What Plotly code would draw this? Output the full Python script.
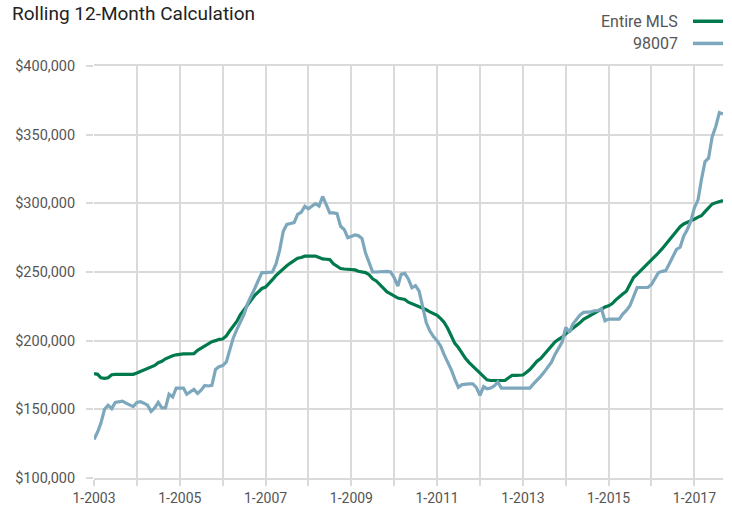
import pandas as pd
import plotly.graph_objects as go

# Monthly values (thousands of $), Jan 2003 .. Sep 2017
entire_mls_k = [
    176, 175.5, 173, 172.5, 173, 175.2, 175.5, 175.5, 175.5, 175.5, 175.5, 175.5,
    176.5, 177.5, 178.5, 180, 180.7, 182, 184, 185, 186.8, 188, 189, 189.7,
    190.2, 190.4, 190.4, 190.4, 190.6, 193, 194.5, 196, 197.5, 199.3, 200, 201,
    201.2, 203.5, 207, 210.5, 214, 219, 222.5, 226, 229.5, 233, 235.5, 238,
    239, 241.5, 244.5, 247.5, 250, 252, 254.5, 256.5, 258.5, 260, 260.5, 261.5,
    261.6, 261.6, 261.6, 260.5, 259.5, 259.3, 259, 256, 253.9, 252.5, 252.2, 252,
    252, 251.5, 250.5, 250, 249.6, 248, 245, 243.5, 241, 238, 235.5, 234,
    232.5, 231, 230.5, 230, 228, 227, 226, 224.5, 224, 222.5, 221, 219.5,
    218.5, 216, 213.5, 209, 204, 198, 195, 190.5, 187, 184, 181.5, 178.5,
    176.5, 174, 171.5, 171, 171, 171, 171, 171, 173, 174.7, 174.7, 174.7,
    175, 177, 179, 182, 185, 187, 190, 193, 196, 199, 201, 202.5,
    205, 207, 209, 211, 213, 215.5, 217, 218.5, 220, 221.5, 223, 224.5,
    225.4, 227, 229.5, 232, 234, 236, 241, 246, 248.5, 251, 254, 256,
    259, 261.5, 264, 267, 270, 273, 276.5, 280, 283, 285, 286, 287,
    288.5, 290, 291, 294, 297, 299.5, 300.5, 301, 302,
]

zip_98007_k = [
    128, 133.5, 140, 150, 153, 150.5, 155, 155.5, 156, 154.5, 153, 152,
    155, 155.5, 154.5, 153, 148.5, 151, 155, 151, 151, 161, 159, 165.5,
    165.5, 165.5, 161, 163, 164.5, 161.5, 164, 167.4, 167, 167.4, 179, 181,
    181.9, 184.5, 193, 202, 208, 214, 219, 227, 232, 238, 244, 249.6,
    249.6, 249.6, 250, 256, 266, 279.7, 284.6, 285.3, 286, 292, 293.5, 297.8,
    296, 298, 299.8, 298, 305, 299, 293, 293, 292.5, 283.3, 281, 275,
    276, 277, 276.5, 274.5, 264, 257, 250, 250, 250.2, 250.2, 250.5, 250,
    245.8, 239.8, 248.3, 249, 245, 238.5, 240, 236, 223, 213, 207, 203,
    200, 196, 190, 185, 179, 172, 166, 168, 168.5, 168.5, 168.5, 166,
    160.2, 166.5, 165, 165.5, 167, 169.9, 165.5, 165.5, 165.5, 165.5, 165.5, 165.5,
    165.5, 165.5, 165.5, 168.5, 171, 174, 177.1, 181, 184.4, 190, 194, 198.9,
    209.7, 206.1, 212, 215.7, 218.6, 220.6, 220.6, 221, 221.8, 221.8, 223, 214.5,
    215.7, 215.7, 215.7, 215.7, 219.4, 222, 225.4, 232, 238.7, 238.7, 238.7, 238.7,
    241, 245, 249.6, 250.5, 251, 256, 261.6, 266.5, 268, 276.1, 281, 287,
    297, 302.7, 317.2, 330.4, 332.9, 348.6, 355.8, 366, 365,
]

months = pd.date_range("2003-01-01", periods=len(entire_mls_k), freq="MS")
tick_years = list(range(2003, 2018))
tick_vals = [f"{y}-01-01" for y in tick_years]
tick_text = [f"1-{y}" if (y - 2003) % 2 == 0 else "" for y in tick_years]

series_names = ["Entire MLS", "98007"]
series_colors = ["#007A4D", "#7DA7BC"]

entire_mls = [v * 1000 for v in entire_mls_k]
zip_98007 = [v * 1000 for v in zip_98007_k]

fig = go.Figure()
fig.add_trace(go.Scatter(x=months, y=entire_mls, mode="lines", name=series_names[0],
                         line=dict(color=series_colors[0], width=3.2), showlegend=False))
fig.add_trace(go.Scatter(x=months, y=zip_98007, mode="lines", name=series_names[1],
                         line=dict(color=series_colors[1], width=3.2), showlegend=False))

grid = "#DADADA"
fig.update_layout(
    width=732, height=515,
    margin=dict(l=94, r=9, t=66, b=35),
    paper_bgcolor="white", plot_bgcolor="white",
    font=dict(family="Roboto, Arial, sans-serif", size=14, color="#555555"),
    title=dict(text="Rolling 12-Month Calculation", x=12 / 732, xref="container", xanchor="left",
               y=1 - 13 / 515, yref="container", yanchor="middle",
               font=dict(family="Roboto, Arial, sans-serif", size=19, color="#222222")),
    xaxis=dict(type="date", range=[months[0], months[-1]], tickvals=tick_vals, ticktext=tick_text,
               tickangle=0, showgrid=True, gridcolor=grid, gridwidth=2,
               ticks="outside", ticklen=6, tickwidth=2, tickcolor=grid,
               showline=True, mirror=True, linecolor=grid, linewidth=2, zeroline=False,
               tickfont=dict(size=14, color="#555555")),
    yaxis=dict(range=[100000, 400000], dtick=50000, tickformat="$,.0f",
               showgrid=True, gridcolor=grid, gridwidth=2,
               ticks="outside", ticklen=7, tickwidth=2, tickcolor=grid,
               showline=False, zeroline=False, ticklabelstandoff=8,
               tickfont=dict(size=14.5, color="#555555")),
    showlegend=False,
)

# custom legend (text left of the line sample, right-aligned)
legend_y = [1.1086, 1.0548]
for name, color, ly in zip(series_names, series_colors, legend_y):
    fig.add_annotation(x=0.9316, y=ly, xref="paper", yref="paper", text=name, showarrow=False,
                       xanchor="right", yanchor="middle",
                       font=dict(family="Roboto, Arial, sans-serif", size=16, color="#555555"))
    fig.add_shape(type="line", xref="paper", yref="paper", x0=0.9523, x1=1.0, y0=ly, y1=ly,
                  line=dict(color=color, width=3.5))

fig.write_html("out.html", config={"displayModeBar": False},
               post_script="document.body.style.margin='0';document.body.style.padding='0';")
